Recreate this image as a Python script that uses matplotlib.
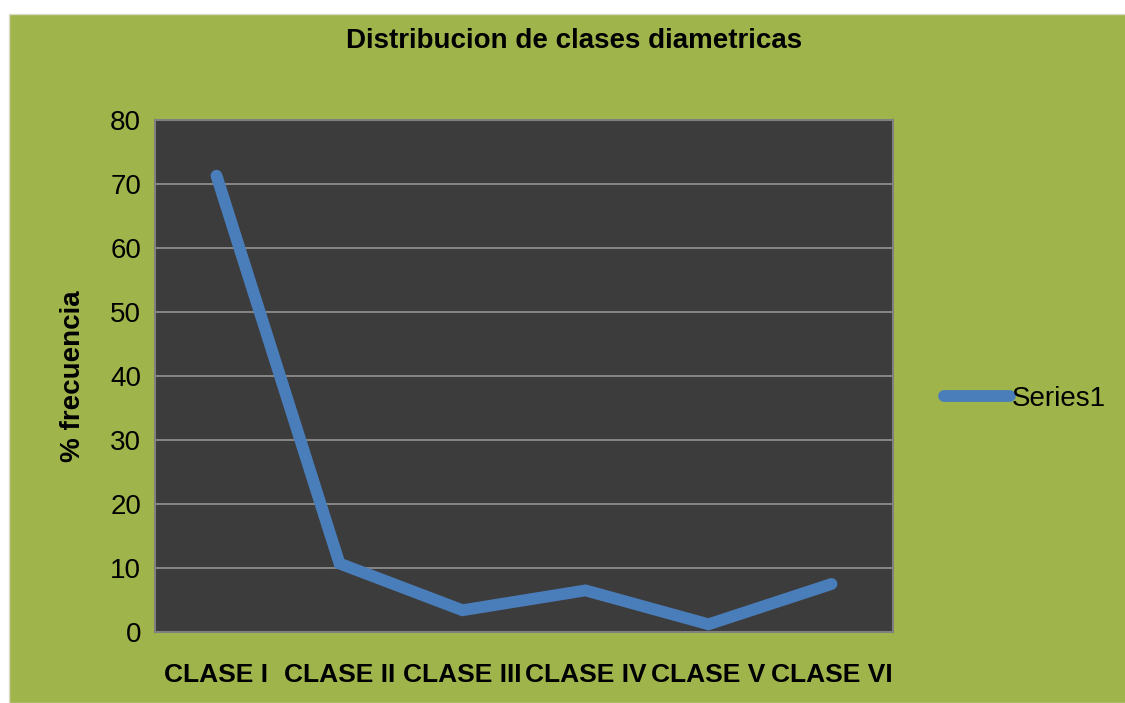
import numpy as np
import matplotlib
matplotlib.use('Agg')
import matplotlib.pyplot as plt
from matplotlib.patches import Rectangle

plt.rcParams['font.family'] = ['Liberation Sans Narrow', 'Liberation Sans', 'DejaVu Sans']

clases = ['CLASE I', 'CLASE II', 'CLASE III', 'CLASE IV', 'CLASE V', 'CLASE VI']
frecuencia = [71.3, 10.7, 3.4, 6.5, 1.2, 7.5]
yticks = [0, 10, 20, 30, 40, 50, 60, 70, 80]

verde = '#A0B44C'
gris = '#3C3C3C'
azul = '#4A7EBB'

fig = plt.figure(figsize=(11.25, 7.03), dpi=100, facecolor='white')
# fondo verde del area del grafico
fig.patches.append(Rectangle((9/1125, 0), 1, 1 - 14/703, transform=fig.transFigure,
                             facecolor=verde, edgecolor='#D8DCC8', lw=1, zorder=-5))

ax = fig.add_axes([155/1125, 1 - 632/703, 738/1125, 512/703])
ax.set_facecolor(gris)
x = np.arange(len(clases))
ax.plot(x, frecuencia, color=azul, lw=8.5, solid_joinstyle='miter', solid_capstyle='round',
        label='Series1', zorder=3)
ax.set_xlim(-0.5, len(clases) - 0.5)
ax.set_ylim(0, 80)
ax.set_yticks(yticks)
ax.set_xticks(x)
ax.set_xticklabels(clases, fontsize=19, fontweight='bold')
ax.tick_params(axis='y', labelsize=20, length=0, pad=10)
ax.tick_params(axis='x', length=0, pad=22)
ax.grid(axis='y', color='#8C8C8C', lw=1.3)
ax.set_axisbelow(True)
for s in ax.spines.values():
    s.set_color('#808080')
    s.set_linewidth(1.5)
ax.set_ylabel('% frecuencia', fontsize=20, fontweight='bold', labelpad=17)

fig.text(574/1125, 1 - 41/703, 'Distribucion de clases diametricas', ha='center', va='center',
         fontsize=20, fontweight='bold')

ax.legend(loc='center left', bbox_to_anchor=(1.035, 0.455), frameon=False, fontsize=20,
          handlelength=2.4, handletextpad=0.05)

fig.savefig('out.png', dpi=100, facecolor='white')
